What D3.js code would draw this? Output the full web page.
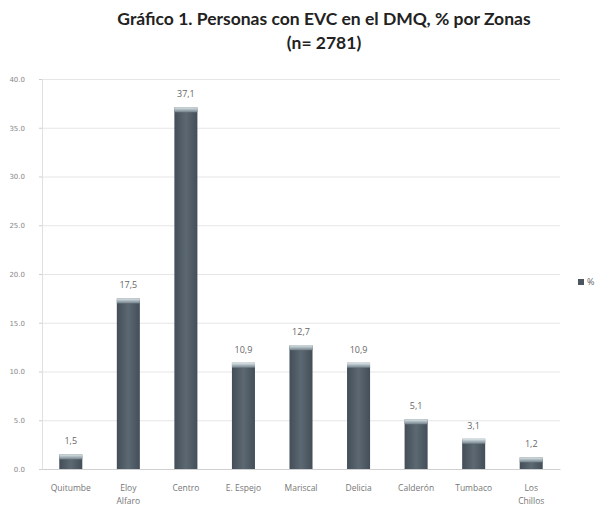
<!DOCTYPE html>
<html>
<head>
<meta charset="utf-8">
<script src="https://cdnjs.cloudflare.com/ajax/libs/d3/7.8.5/d3.min.js"></script>
<style>
  body { margin: 0; background: #fff; }
  svg { display: block; }
</style>
</head>
<body>
<div id="chart"></div>
<script>
(function () {
    var zonas = ["Quitumbe", "Eloy Alfaro", "Centro", "E. Espejo", "Mariscal", "Delicia", "Calderón", "Tumbaco", "Los Chillos"];
    var porcentajes = [1.5, 17.5, 37.1, 10.9, 12.7, 10.9, 5.1, 3.1, 1.2];
    var yTicks = [0, 5, 10, 15, 20, 25, 30, 35, 40];
    var titulo = ["Gráfico 1. Personas con EVC en el DMQ, % por Zonas", "(n= 2781)"];
    var leyenda = "%";

    var W = 602, H = 511;
    var margin = {top: 79, right: 42, bottom: 42, left: 42},
        width = W - margin.left - margin.right,
        height = H - margin.top - margin.bottom;

    var svg = d3.select("#chart").append("svg")
        .attr("width", W)
        .attr("height", H);

    var defs = svg.append("defs");
    var grad = defs.append("linearGradient")
        .attr("id", "barGrad")
        .attr("x1", 0).attr("x2", 1).attr("y1", 0).attr("y2", 0);
    grad.append("stop").attr("offset", "0%").attr("stop-color", "#434e58");
    grad.append("stop").attr("offset", "50%").attr("stop-color", "#5c6872");
    grad.append("stop").attr("offset", "100%").attr("stop-color", "#434e58");

    var capGrad = defs.append("linearGradient")
        .attr("id", "capGrad")
        .attr("x1", 0).attr("x2", 0).attr("y1", 0).attr("y2", 1);
    capGrad.append("stop").attr("offset", "0%").attr("stop-color", "#dfeaec");
    capGrad.append("stop").attr("offset", "100%").attr("stop-color", "#72808a");

    // title
    svg.append("g").selectAll("text")
        .data(titulo)
        .enter().append("text")
        .attr("x", 324)
        .attr("y", function (d, i) { return 25 + i * 24; })
        .attr("text-anchor", "middle")
        .style("font-family", "Lato, 'Open Sans', sans-serif")
        .style("font-weight", "bold")
        .style("font-size", "17.5px")
        .style("fill", "#222")
        .text(function (d) { return d; });

    var g = svg.append("g")
        .attr("transform", "translate(" + margin.left + "," + margin.top + ")");

    var x = d3.scaleBand()
        .domain(zonas)
        .range([0, width])
        .paddingInner(0.6)
        .paddingOuter(0.3);

    var y = d3.scaleLinear()
        .domain([0, 40])
        .range([height, 0]);

    // gridlines
    g.append("g")
        .attr("class", "grid")
        .call(d3.axisLeft(y)
            .tickValues(yTicks)
            .tickSize(-width)
            .tickFormat(function () { return null; }))
        .call(function (s) { s.select(".domain").remove(); })
        .selectAll("line")
        .attr("stroke", "#e6e6e6");

    // y axis labels
    g.append("g")
        .attr("class", "axis axis--y")
        .call(d3.axisLeft(y)
            .tickValues(yTicks)
            .tickSize(3)
            .tickPadding(14)
            .tickFormat(d3.format(".1f")))
        .call(function (s) {
            s.select(".domain").attr("stroke", "#e0e0e0");
            s.selectAll("line").attr("stroke", "#cfcfcf");
            s.selectAll("text")
                .style("font-family", "'DejaVu Sans', sans-serif")
                .style("font-size", "7px")
                .style("fill", "#888");
        });

    // x axis
    var xAxis = g.append("g")
        .attr("class", "axis axis--x")
        .attr("transform", "translate(0," + height + ")")
        .call(d3.axisBottom(x).tickSize(0).tickPadding(16));
    xAxis.select(".domain").attr("stroke", "#d0d0d0");
    xAxis.selectAll("text")
        .style("font-family", "'Open Sans', sans-serif")
        .style("font-size", "8.5px")
        .style("fill", "#777")
        .each(function (d) {
            var t = d3.select(this), words = d.split(" ");
            if (d === "E. Espejo") words = ["E. Espejo"];
            t.text(null);
            words.forEach(function (w, i) {
                t.append("tspan")
                    .attr("x", 0)
                    .attr("dy", i === 0 ? "0.71em" : "1.5em")
                    .text(w);
            });
        });

    // bars
    var bars = g.append("g").selectAll(".bar")
        .data(porcentajes)
        .enter().append("g")
        .attr("class", "bar");

    bars.append("rect")
        .attr("x", function (d, i) { return x(zonas[i]); })
        .attr("y", function (d) { return y(d); })
        .attr("width", x.bandwidth())
        .attr("height", function (d) { return height - y(d); })
        .attr("fill", "url(#barGrad)");

    bars.append("rect")
        .attr("x", function (d, i) { return x(zonas[i]); })
        .attr("y", function (d) { return y(d); })
        .attr("width", x.bandwidth())
        .attr("height", function (d) { return Math.min(5, height - y(d)); })
        .attr("fill", "url(#capGrad)");

    bars.append("text")
        .attr("x", function (d, i) { return x(zonas[i]) + x.bandwidth() / 2; })
        .attr("y", function (d) { return y(d) - 10; })
        .attr("text-anchor", "middle")
        .style("font-family", "'Open Sans', sans-serif")
        .style("font-size", "9px")
        .style("fill", "#666")
        .text(function (d) { return d3.format(".1f")(d).replace(".", ","); });

    // legend
    var lg = svg.append("g").attr("transform", "translate(578,279)");
    lg.append("rect").attr("width", 6).attr("height", 6).attr("fill", "#4a5560");
    lg.append("text")
        .attr("x", 9).attr("y", 6)
        .style("font-family", "'Open Sans', sans-serif")
        .style("font-size", "9px")
        .style("fill", "#666")
        .text(leyenda);
}());
</script>
</body>
</html>
